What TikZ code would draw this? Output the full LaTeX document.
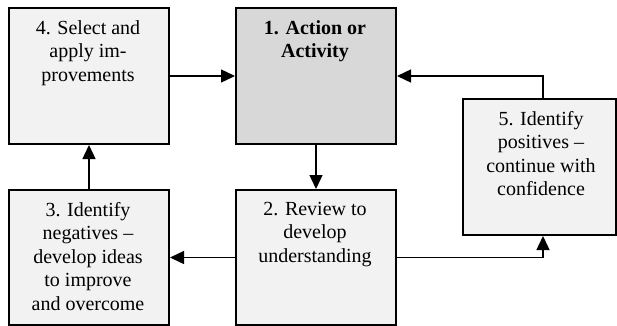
\documentclass[tikz,border=0pt]{standalone}
\usepackage{fontspec}
\setmainfont{Liberation Serif}
\usetikzlibrary{arrows.meta}
\definecolor{boxfill}{HTML}{F2F2F2}
\definecolor{keyfill}{HTML}{D8D8D8}
\begin{document}
\begin{tikzpicture}[x=1pt,y=-1pt,
  stagebox/.style={draw=black, line width=2pt, fill=boxfill, anchor=north west, inner sep=0pt},
  keybox/.style={stagebox, fill=keyfill},
  label text/.style={anchor=north, align=center, inner sep=0pt,
    font=\fontsize{20}{23.5}\selectfont},
  flow/.style={line width=1.4pt, -{Triangle[length=14pt,width=13pt]}}]
\useasboundingbox (0,0) rectangle (617,325);
% stages of the cycle
\node[stagebox, minimum width=160pt, minimum height=136pt] (n4) at (8,7) {};
\node[keybox,   minimum width=160pt, minimum height=136pt] (n1) at (235,7) {};
\node[stagebox, minimum width=153pt, minimum height=136pt] (n5) at (462,98) {};
\node[stagebox, minimum width=160pt, minimum height=135pt] (n3) at (8,189) {};
\node[stagebox, minimum width=160pt, minimum height=135pt] (n2) at (235,189) {};
% texts
\node[label text] (t4) at (88,20) {4. Select and\\apply im-\\provements};
\node[label text, font=\fontsize{20}{23.5}\selectfont\bfseries] (t1) at (315,20) {1. Action or\\Activity};
\node[label text] (t5) at (541,111) {5. Identify\\positives --\\continue with\\confidence};
\node[label text] (t3) at (88,202) {3. Identify\\negatives --\\develop ideas\\to improve\\and overcome};
\node[label text] (t2) at (315,202) {2. Review to\\develop\\understanding};
% connectors
\draw[flow] (n4.east) -- (n1.west);
\draw[flow] (n1.south) -- (n2.north);
\draw[flow] (n2.west) -- (n3.east);
\draw[flow] (n3.north) -- (n4.south);
\draw[flow] (n2.east) -| ([xshift=3.5pt]n5.south);
\draw[flow] ([xshift=3.5pt]n5.north) |- (n1.east);
\end{tikzpicture}
\end{document}
